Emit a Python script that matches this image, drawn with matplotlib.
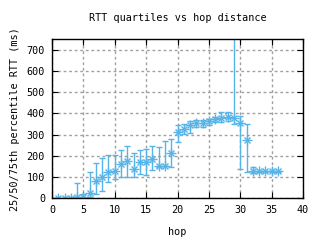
import matplotlib
matplotlib.use("Agg")
import matplotlib.pyplot as plt

# hop -> 25th / 50th / 75th percentile RTT (ms)
hops = [1, 2, 3, 4, 5, 6, 7, 8, 9, 10, 11, 12, 13, 14, 15, 16, 17, 18, 19,
        20, 21, 22, 23, 24, 25, 26, 27, 28, 29, 30, 31, 32, 33, 34, 35, 36]
p50 = [0, 0, 0, 5, 5, 26, 80, 99, 121, 126, 159, 173, 135, 170, 170, 183, 150, 150, 213,
       311, 327, 346, 354, 354, 362, 373, 378, 381, 378, 354, 275, 126, 126, 126, 126, 126]
p25 = [0, 0, 0, 0, 0, 5, 21, 35, 76, 89, 99, 99, 99, 114, 110, 132, 148, 150, 145,
       267, 303, 305, 338, 338, 345, 357, 357, 364, 348, 135, 124, 116, 122, 122, 122, 122]
p75 = [0, 0, 0, 71, 20, 122, 165, 189, 202, 203, 227, 245, 211, 226, 233, 245, 240, 269, 280,
       343, 348, 365, 367, 367, 373, 383, 407, 407, 900, 388, 349, 146, 130, 130, 130, 130]

blue = "#56b4e9"
mono = "DejaVu Sans Mono"
fs = 7.3

fig = plt.figure(figsize=(3.2, 2.4), dpi=100)
ax = fig.add_axes([0.1625, 0.175, 0.7845, 0.661])

lo = [m - a for m, a in zip(p50, p25)]
hi = [b - m for m, b in zip(p50, p75)]
ax.errorbar(hops, p50, yerr=[lo, hi], fmt="none", ecolor=blue, elinewidth=1,
            capsize=2, capthick=1)
ax.plot(hops, p50, linestyle="none", marker="+", color=blue, ms=7, mew=1)
ax.plot(hops, p50, linestyle="none", marker="x", color=blue, ms=5, mew=1)

ax.set_xlim(0, 40)
ax.set_ylim(0, 750)
ax.set_xticks(range(0, 41, 5))
ax.set_yticks(range(0, 701, 100))
ax.grid(True, color="#a0a0a0", linestyle=(0, (2, 2)), linewidth=1)
ax.tick_params(direction="in", top=True, right=True, length=4, labelsize=fs, pad=5)
for lab in ax.get_xticklabels() + ax.get_yticklabels():
    lab.set_fontfamily(mono)
for s in ax.spines.values():
    s.set_linewidth(1)

ax.set_title("RTT quartiles vs hop distance", fontsize=fs, family=mono, pad=13)
ax.set_xlabel("hop", fontsize=fs, family=mono, labelpad=9)
ax.set_ylabel("25/50/75th percentile RTT (ms)", fontsize=fs, family=mono, labelpad=5)

fig.savefig("out.png", dpi=100)
